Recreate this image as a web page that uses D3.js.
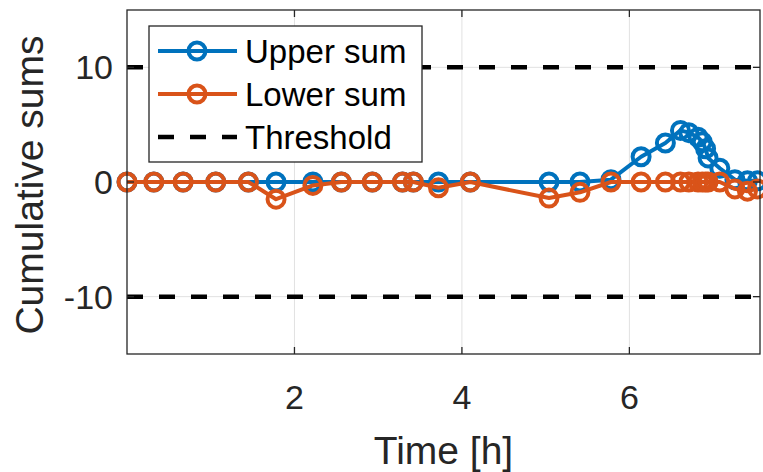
<!DOCTYPE html>
<html>
<head>
<meta charset="utf-8">
<script src="https://cdn.jsdelivr.net/npm/d3@7"></script>
<style>
  body { margin: 0; background: #fff; }
  text { font-family: "Liberation Sans", Arial, Helvetica, sans-serif; }
</style>
</head>
<body>
<div id="chart"></div>
<script>
// data
var times = [0, 0.32, 0.67, 1.06, 1.45, 1.78, 2.22, 2.56, 2.93, 3.29, 3.42, 3.72, 4.10,
             5.04, 5.41, 5.78, 6.14, 6.43, 6.61, 6.71, 6.82, 6.87, 6.91, 6.94, 7.08, 7.26, 7.41, 7.53];
var upperSum = [0, 0, 0, 0, 0, 0, 0, 0, 0, 0, 0, 0, 0,
                0, 0, 0.2, 2.2, 3.4, 4.5, 4.3, 3.9, 3.5, 2.9, 2.1, 1.2, 0.2, 0.1, 0.1];
var lowerSum = [0, 0, 0, 0, 0, -1.5, -0.3, 0, 0, 0, 0, -0.5, 0,
                -1.4, -0.9, 0, 0, 0, 0, 0, 0, 0, 0, 0, 0, -0.6, -0.8, -0.6];
var thresholds = [10, -10];
var xTicks = [2, 4, 6];
var yTicks = [-10, 0, 10];
var seriesNames = ["Upper sum", "Lower sum", "Threshold"];

var width = 763, height = 472;
var margin = {top: 10, right: 3, bottom: 118, left: 127};
var axisColor = "#262626";
var blue = "#0072BD", orange = "#D95319";

var svg = d3.select("#chart").append("svg")
    .attr("width", width)
    .attr("height", height);

var x = d3.scaleLinear().domain([0, 7.56]).range([margin.left, width - margin.right]);
var y = d3.scaleLinear().domain([-15, 15]).range([height - margin.bottom, margin.top]);

var x0 = x.range()[0], x1 = x.range()[1], y0 = y.range()[0], y1 = y.range()[1];

// grid
svg.selectAll(".vgrid").data(xTicks).enter().append("line")
    .attr("x1", d => x(d)).attr("x2", d => x(d))
    .attr("y1", y1).attr("y2", y0)
    .attr("stroke", "#e1e1e1").attr("stroke-width", 1);
svg.selectAll(".hgrid").data(yTicks).enter().append("line")
    .attr("x1", x0).attr("x2", x1)
    .attr("y1", d => y(d)).attr("y2", d => y(d))
    .attr("stroke", "#e1e1e1").attr("stroke-width", 1);

// thresholds
svg.selectAll(".thr").data(thresholds).enter().append("line")
    .attr("x1", x0).attr("x2", x1)
    .attr("y1", d => y(d)).attr("y2", d => y(d))
    .attr("stroke", "#000").attr("stroke-width", 4.5)
    .attr("stroke-dasharray", "16,16");

// series
var line = d3.line().x(d => x(d[0])).y(d => y(d[1]));
function drawSeries(values, color) {
    var pts = times.map(function (t, i) { return [t, values[i]]; });
    svg.append("path").datum(pts)
        .attr("d", line)
        .attr("fill", "none")
        .attr("stroke", color)
        .attr("stroke-width", 4)
        .attr("stroke-linejoin", "round");
    svg.selectAll(null).data(pts).enter().append("circle")
        .attr("cx", d => x(d[0])).attr("cy", d => y(d[1]))
        .attr("r", 8.5)
        .attr("fill", "none")
        .attr("stroke", color)
        .attr("stroke-width", 4);
}
drawSeries(upperSum, blue);
drawSeries(lowerSum, orange);

// axes box
svg.append("rect")
    .attr("x", x0).attr("y", y1)
    .attr("width", x1 - x0).attr("height", y0 - y1)
    .attr("fill", "none").attr("stroke", axisColor).attr("stroke-width", 1.3);

var tickLen = 7;
xTicks.forEach(function (d) {
    svg.append("line").attr("x1", x(d)).attr("x2", x(d)).attr("y1", y0).attr("y2", y0 - tickLen)
        .attr("stroke", axisColor).attr("stroke-width", 1.3);
    svg.append("line").attr("x1", x(d)).attr("x2", x(d)).attr("y1", y1).attr("y2", y1 + tickLen)
        .attr("stroke", axisColor).attr("stroke-width", 1.3);
    svg.append("text").attr("x", x(d)).attr("y", y0 + 55)
        .attr("text-anchor", "middle").attr("font-size", 34).attr("fill", axisColor)
        .text(d);
});
yTicks.forEach(function (d) {
    svg.append("line").attr("x1", x0).attr("x2", x0 + tickLen).attr("y1", y(d)).attr("y2", y(d))
        .attr("stroke", axisColor).attr("stroke-width", 1.3);
    svg.append("line").attr("x1", x1).attr("x2", x1 - tickLen).attr("y1", y(d)).attr("y2", y(d))
        .attr("stroke", axisColor).attr("stroke-width", 1.3);
    svg.append("text").attr("x", x0 - 14).attr("y", y(d) + 12)
        .attr("text-anchor", "end").attr("font-size", 34).attr("fill", axisColor)
        .text(d);
});

// axis labels
svg.append("text")
    .attr("x", (x0 + x1) / 2).attr("y", 464)
    .attr("text-anchor", "middle").attr("font-size", 39).attr("fill", axisColor)
    .text("Time [h]");
svg.append("text")
    .attr("transform", "translate(43," + ((y0 + y1) / 2 + 3) + ") rotate(-90)")
    .attr("text-anchor", "middle").attr("font-size", 39).attr("fill", axisColor)
    .text("Cumulative sums");

// legend
var lg = svg.append("g");
lg.append("rect")
    .attr("x", 149).attr("y", 26).attr("width", 273).attr("height", 136)
    .attr("fill", "#fff").attr("stroke", axisColor).attr("stroke-width", 1.3);
var legendColors = [blue, orange, "#000"];
seriesNames.forEach(function (name, i) {
    var ly = 51 + i * 43;
    var l = lg.append("line").attr("x1", 158).attr("x2", 237).attr("y1", ly).attr("y2", ly)
        .attr("stroke", legendColors[i]).attr("stroke-width", i === 2 ? 4.5 : 4);
    if (i === 2) {
        l.attr("stroke-dasharray", "16,16");
    } else {
        lg.append("circle").attr("cx", 197).attr("cy", ly).attr("r", 8.5)
            .attr("fill", "none").attr("stroke", legendColors[i]).attr("stroke-width", 4);
    }
    lg.append("text").attr("x", 245).attr("y", ly + 12)
        .attr("font-size", 33).attr("fill", "#000")
        .text(name);
});
</script>
</body>
</html>
